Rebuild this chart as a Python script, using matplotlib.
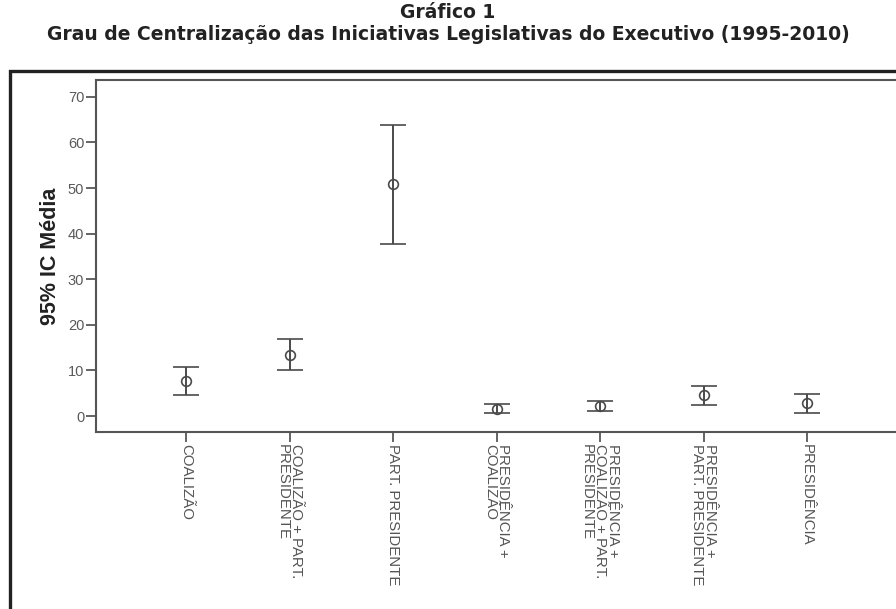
import matplotlib.pyplot as plt
from matplotlib.patches import Rectangle
import numpy as np

# categorias e valores (media e IC 95%)
categorias = ["COALIZÃO",
              "COALIZÃO + PART.\nPRESIDENTE",
              "PART. PRESIDENTE",
              "PRESIDÊNCIA +\nCOALIZÃO",
              "PRESIDÊNCIA +\nCOALIZÃO + PART.\nPRESIDENTE",
              "PRESIDÊNCIA +\nPART. PRESIDENTE",
              "PRESIDÊNCIA"]
media = [7.7, 13.4, 50.8, 1.6, 2.2, 4.6, 2.8]
ic_sup = [10.7, 16.8, 63.8, 2.6, 3.3, 6.6, 4.8]
ic_inf = [4.7, 10.1, 37.7, 0.7, 1.1, 2.5, 0.7]

cinza = '#4a4a4a'

fig = plt.figure(figsize=(8.96, 6.09), dpi=100)
ax = fig.add_axes([96 / 896, 1 - 432 / 609, 1 - 96 / 896, (432 - 80) / 609])

x = np.arange(len(categorias))
media = np.array(media)
erro = [media - np.array(ic_inf), np.array(ic_sup) - media]

ax.errorbar(x, media, yerr=erro, fmt='o', color=cinza, ecolor=cinza,
            mfc='none', mec=cinza, ms=7, mew=1.2, elinewidth=1.4,
            capsize=9.5, capthick=1.4)

ax.set_xlim(-0.87, 6.86)
ax.set_ylim(-3.5, 73.7)
ax.set_yticks(range(0, 71, 10))
ax.set_xticks(x)
ax.set_xticklabels(categorias, rotation=270, ha='center', va='top',
                   multialignment='left', linespacing=0.95,
                   fontsize=10.8, color='#555555', family='Liberation Sans')
for lbl in ax.get_yticklabels():
    lbl.set_family('Liberation Sans')
ax.tick_params(axis='y', length=7, width=1.2, color=cinza, labelsize=10.5,
               labelcolor='#5a5a5a', pad=1.5)
ax.tick_params(axis='x', length=7, width=1.2, color=cinza, pad=1.5)

for s in ['left', 'bottom', 'top']:
    ax.spines[s].set_color('#555555')
    ax.spines[s].set_linewidth(1.5)
ax.spines['right'].set_visible(False)

ax.set_ylabel('95% IC Média', fontsize=15.5, fontweight='bold',
              family='Liberation Sans', color='#222222', labelpad=5)

# moldura externa
fig.add_artist(Rectangle((9.5 / 896, -0.05), 1.0, 1 - 71 / 609 + 0.05,
                         transform=fig.transFigure, fill=False,
                         edgecolor='#222222', linewidth=2.4, clip_on=False))

fig.text(0.5, 1 - 13 / 609, 'Gráfico 1', ha='center', va='center',
         fontsize=13.5, fontweight='bold', color='#222222')
fig.text(0.5, 1 - 34 / 609,
         'Grau de Centralização das Iniciativas Legislativas do Executivo (1995-2010)',
         ha='center', va='center', fontsize=13.5, fontweight='bold',
         color='#222222')

plt.savefig('out.png', dpi=100)
